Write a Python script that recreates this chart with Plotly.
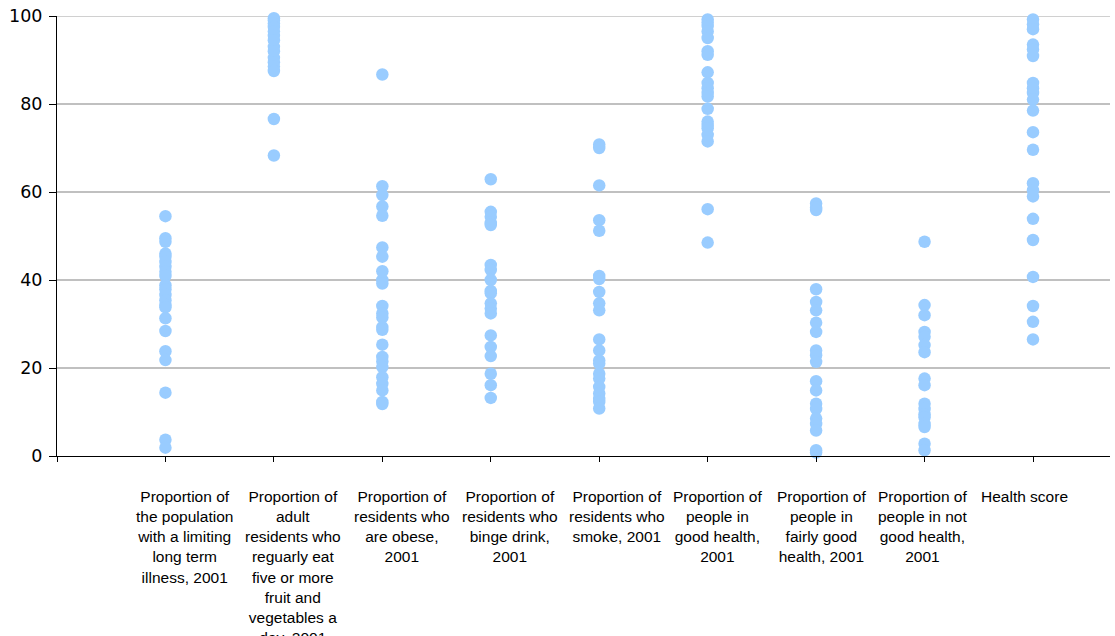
import plotly.graph_objects as go

labels = [
    "Proportion of<br>the population<br>with a limiting<br>long term<br>illness, 2001",
    "Proportion of<br>adult<br>residents who<br>reguarly eat<br>five or more<br>fruit and<br>vegetables a<br>day, 2001",
    "Proportion of<br>residents who<br>are obese,<br>2001",
    "Proportion of<br>residents who<br>binge drink,<br>2001",
    "Proportion of<br>residents who<br>smoke, 2001",
    "Proportion of<br>people in<br>good health,<br>2001",
    "Proportion of<br>people in<br>fairly good<br>health, 2001",
    "Proportion of<br>people in not<br>good health,<br>2001",
    "Health score",
]

limiting_illness = [54.5, 49.5, 48.7, 46.0, 45.3, 44.1, 43.0, 41.9, 40.9, 38.8, 37.9,
                    36.6, 35.4, 34.3, 33.8, 31.3, 28.4, 23.8, 21.8, 14.4, 3.7, 1.9]
fruit_veg = [99.5, 99.0, 98.3, 97.5, 96.5, 95.5, 94.5, 93.0, 92.0, 90.5, 89.5,
             88.5, 87.5, 76.6, 68.3]
obese = [86.7, 61.3, 59.3, 56.7, 54.6, 47.4, 45.3, 42.0, 40.0, 39.2, 34.1, 32.4,
         31.5, 29.3, 28.7, 25.3, 22.5, 21.5, 20.2, 17.9, 16.4, 14.9, 12.3, 11.8]
binge_drink = [62.9, 55.5, 54.4, 53.0, 52.5, 43.4, 42.3, 40.0, 37.5, 37.0, 34.7,
               33.5, 32.4, 27.4, 24.8, 22.7, 18.7, 16.1, 13.2]
smoke = [70.8, 70.0, 61.5, 53.6, 51.2, 40.9, 40.2, 37.3, 34.7, 33.1, 26.5, 24.0,
         21.7, 21.0, 18.7, 17.6, 15.7, 14.2, 13.0, 12.3, 10.8]
good_health = [99.2, 98.5, 97.7, 96.5, 95.0, 92.0, 91.2, 87.2, 84.8, 83.6, 82.5,
               81.7, 78.9, 76.0, 75.2, 74.5, 73.0, 71.5, 56.1, 48.5]
fairly_good = [57.4, 56.5, 55.9, 37.9, 35.0, 33.1, 30.3, 28.2, 24.0, 22.9, 21.4,
               17.0, 14.9, 11.9, 10.7, 8.5, 7.3, 5.8, 1.3, 0.8]
not_good = [48.7, 34.3, 32.0, 28.2, 27.1, 25.2, 23.6, 17.6, 16.1, 11.9, 10.7,
            9.5, 8.8, 7.3, 6.6, 2.8, 1.3]
health_score = [99.2, 98.1, 97.0, 93.5, 92.4, 90.9, 84.8, 83.6, 82.5, 81.0, 78.5,
                73.6, 69.6, 62.0, 60.4, 59.0, 53.9, 49.1, 40.7, 34.1, 30.5, 26.5]

series = [limiting_illness, fruit_veg, obese, binge_drink, smoke,
          good_health, fairly_good, not_good, health_score]

# label boxes sit a little right of the points in the original
label_shift = [0.18, 0.18, 0.18, 0.18, 0.16, 0.09, 0.05, -0.02, -0.08]

xs, ys = [], []
for i, vals in enumerate(series):
    xs += [i + 1] * len(vals)
    ys += vals

fig = go.Figure(go.Scatter(
    x=xs, y=ys, mode="markers",
    marker=dict(color="#99CCFF", size=12.5, line=dict(width=0)),
    cliponaxis=False, showlegend=False,
))

for i, lab in enumerate(labels):
    fig.add_annotation(
        x=i + 1 + label_shift[i], y=0, xref="x", yref="paper",
        text=lab, showarrow=False, yanchor="top", xanchor="center",
        yshift=-30, align="center",
        font=dict(family="Liberation Sans, Arial", size=15.5, color="black"),
    )

# plotly drops the gridline sitting on the top edge, so draw it
fig.add_shape(type="line", xref="paper", yref="y", x0=0, x1=1, y0=100, y1=100,
              line=dict(color="#C0C0C0", width=1.5), layer="below")

fig.update_xaxes(
    range=[0, 9.71], showgrid=False, zeroline=False, automargin=False,
    showline=True, linecolor="black", linewidth=1,
    tickvals=list(range(0, 10)), ticks="outside", ticklen=5,
    tickcolor="black", showticklabels=False,
)
fig.update_yaxes(
    range=[0, 100], tickvals=[0, 20, 40, 60, 80, 100], automargin=False,
    showgrid=True, gridcolor="#C0C0C0", gridwidth=1.5, zeroline=False,
    showline=True, linecolor="black", linewidth=1,
    ticks="outside", ticklen=7, tickcolor="black", ticklabelstandoff=3,
    tickfont=dict(family="DejaVu Sans", size=17.5, color="black"),
)

fig.update_layout(
    width=1115, height=636,
    margin=dict(l=57, r=5, t=16, b=180),
    paper_bgcolor="white", plot_bgcolor="white",
)

# drop the browser's default 8px body margin so the figure fills the window
fig.write_html("out.html", config={"displayModeBar": False},
               post_script="document.body.style.margin='0';")
